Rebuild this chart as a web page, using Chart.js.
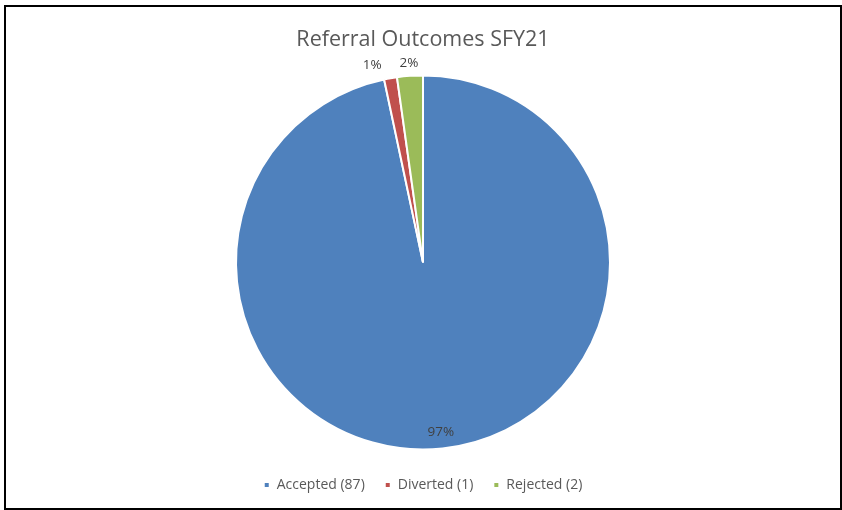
<!DOCTYPE html>
<html lang="en">
<head>
    <meta charset="UTF-8">
    <title>Referral Outcomes SFY21</title>
    <script src="https://cdn.jsdelivr.net/npm/chart.js"></script>
    <style>
        body {
            margin: 0;
            padding: 0;
            background: #ffffff;
        }
        .wrap {
            position: relative;
            width: 842px;
            height: 510px;
        }
        .frame {
            position: absolute;
            left: 4px;
            top: 5px;
            width: 834px;
            height: 501px;
            border: 2px solid #000;
            pointer-events: none;
        }
    </style>
</head>
<body>
    <div class="wrap">
        <canvas id="pieChart" width="842" height="510"></canvas>
        <div class="frame"></div>
    </div>
    <script>
        const categories = ['Accepted', 'Diverted', 'Rejected'];
        const counts = [87, 1, 2];
        const percentLabels = ['97%', '1%', '2%'];
        const sliceColors = ['#4F81BD', '#C0504D', '#9BBB59'];

        // percentage labels: big slice inside, small slices just outside the rim
        const percentLabelPlugin = {
            id: 'percentLabels',
            afterDatasetsDraw(chart) {
                const ctx = chart.ctx;
                const arcs = chart.getDatasetMeta(0).data;
                ctx.save();
                ctx.font = '13.5px "Open Sans"';
                ctx.fillStyle = '#404040';
                ctx.textAlign = 'center';
                ctx.textBaseline = 'middle';
                let lastLeft = null;
                for (let i = arcs.length - 1; i >= 0; i--) {
                    const arc = arcs[i];
                    const mid = (arc.startAngle + arc.endAngle) / 2;
                    const share = (arc.endAngle - arc.startAngle) / (2 * Math.PI);
                    const r = share > 0.1 ? arc.outerRadius * 0.915 : arc.outerRadius + 13;
                    let x = arc.x + Math.cos(mid) * r;
                    const y = arc.y + Math.sin(mid) * r;
                    const w = ctx.measureText(percentLabels[i]).width;
                    if (share <= 0.1) {
                        if (lastLeft !== null && x + w / 2 > lastLeft - 18) {
                            x = lastLeft - 18 - w / 2;
                        }
                        lastLeft = x - w / 2;
                    }
                    ctx.fillText(percentLabels[i], x, y);
                }
                ctx.restore();
            }
        };

        const ctx = document.getElementById('pieChart').getContext('2d');
        const pieChart = new Chart(ctx, {
            type: 'pie',
            data: {
                labels: categories.map((c, i) => c + ' (' + counts[i] + ')'),
                datasets: [{
                    data: counts,
                    backgroundColor: sliceColors,
                    borderColor: '#ffffff',
                    borderWidth: 2,
                    radius: 187
                }]
            },
            options: {
                responsive: false,
                animation: false,
                layout: {
                    padding: { top: 27, bottom: 8, left: 4 }
                },
                plugins: {
                    title: {
                        display: true,
                        text: 'Referral Outcomes SFY21',
                        color: '#595959',
                        font: { family: 'Open Sans', size: 21.5, weight: 'normal' },
                        padding: { top: 0, bottom: 14 }
                    },
                    legend: {
                        position: 'bottom',
                        labels: {
                            color: '#595959',
                            font: { family: 'Open Sans', size: 14 },
                            usePointStyle: true,
                            pointStyle: 'rect',
                            boxWidth: 6,
                            boxHeight: 6,
                            padding: 20
                        }
                    },
                    tooltip: { enabled: false }
                }
            },
            plugins: [percentLabelPlugin]
        });
    </script>
</body>
</html>
